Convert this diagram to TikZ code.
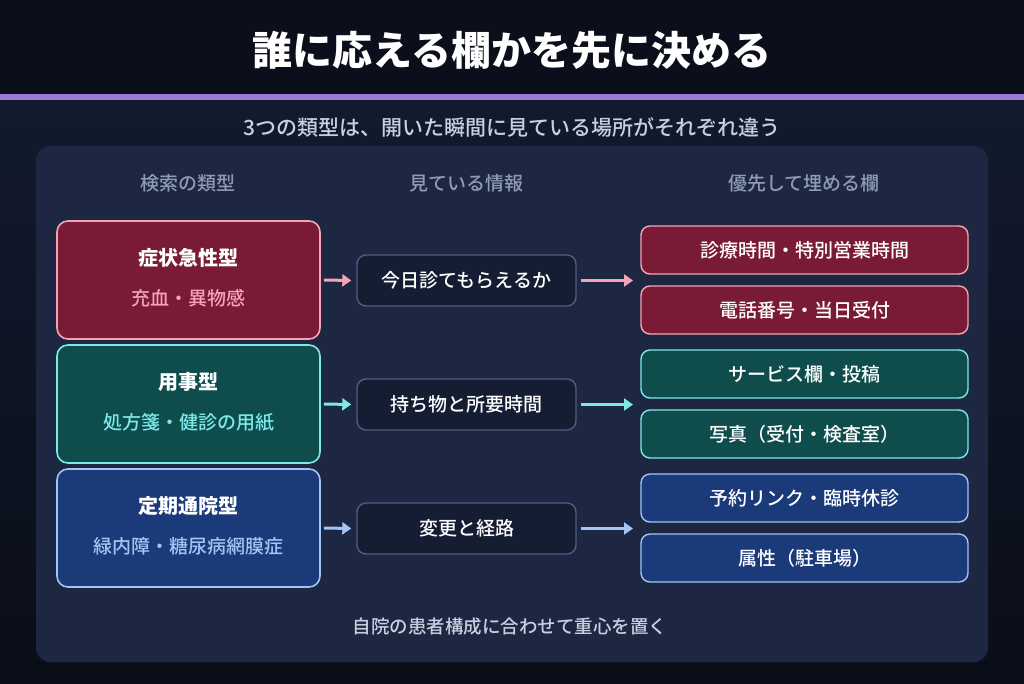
\documentclass[tikz,border=0pt]{standalone}
\usepackage{fontspec}
\setmainfont{Noto Sans CJK JP}
\newfontfamily\medfont{Noto Sans CJK JP Medium}
\usetikzlibrary{arrows.meta}
\definecolor{topbg}{HTML}{0B0F1B}
\definecolor{bodytop}{HTML}{121A2F}
\definecolor{bodybot}{HTML}{0A0E18}
\definecolor{purpleline}{HTML}{9B7BD8}
\definecolor{panel}{HTML}{1E2742}
\definecolor{headc}{HTML}{8F9BB5}
\definecolor{subc}{HTML}{C8D0E0}
\definecolor{pinkF}{HTML}{7A1B35}
\definecolor{pinkD}{HTML}{F4A3B8}
\definecolor{tealF}{HTML}{0F4D4D}
\definecolor{tealD}{HTML}{7EE8E8}
\definecolor{blueF}{HTML}{1B3A7A}
\definecolor{blueD}{HTML}{A3C4F4}
\definecolor{midF}{HTML}{151D33}
\definecolor{midD}{HTML}{4E5E82}
\tikzset{
  typebox/.style={draw=#1D, fill=#1F, line width=1.6pt, rounded corners=11pt, minimum width=263pt, minimum height=118pt, inner sep=0pt},
  infobox/.style={draw=midD, fill=midF, line width=1.4pt, rounded corners=9pt, minimum width=219pt, minimum height=51pt, inner sep=0pt, text=white, font=\medfont\fontsize{19}{22}\selectfont},
  fieldbox/.style={draw=#1D, fill=#1F, line width=1.4pt, rounded corners=9pt, minimum width=327pt, minimum height=48pt, inner sep=0pt, text=white, font=\medfont\fontsize{19}{22}\selectfont},
  ttl/.style={text=white, font=\fontsize{20}{24}\selectfont\bfseries},
  sub/.style={font=\medfont\fontsize{19}{22}\selectfont},
  colhead/.style={text=headc, font=\medfont\fontsize{19}{22}\selectfont},
  flow/.style={draw=#1, line width=3pt, -{Triangle[length=9pt,width=12pt]}, shorten >=1pt},
}
\begin{document}
\begin{tikzpicture}[x=1pt,y=-1pt]
\useasboundingbox (0,0) rectangle (1024,683);
\fill[topbg] (0,0) rectangle (1024,94);
\shade[top color=bodytop, bottom color=bodybot] (0,99) rectangle (1024,683);
\fill[purpleline] (0,94) rectangle (1024,100);
\fill[panel, rounded corners=14pt] (36,146) rectangle (988,662);

\node[text=white, font=\fontsize{40}{44}\selectfont\bfseries] (title) at (512,50) {誰に応える欄かを先に決める};
\node[text=subc, font=\medfont\fontsize{21}{24}\selectfont] (subtitle) at (512,127) {3つの類型は、開いた瞬間に見ている場所がそれぞれ違う};

\node[colhead] (h1) at (188,183) {検索の類型};
\node[colhead] (h2) at (466,183) {見ている情報};
\node[colhead] (h3) at (804,183) {優先して埋める欄};

% left type boxes
\node[typebox=pink] (t1) at (188.5,280) {};
\node[ttl] (t1a) at (188.5,258) {症状急性型};
\node[sub, text=pinkD] (t1b) at (188.5,298) {充血・異物感};

\node[typebox=teal] (t2) at (188.5,404) {};
\node[ttl] (t2a) at (188.5,382) {用事型};
\node[sub, text=tealD] (t2b) at (188.5,422) {処方箋・健診の用紙};

\node[typebox=blue] (t3) at (188.5,528) {};
\node[ttl] (t3a) at (188.5,506) {定期通院型};
\node[sub, text=blueD] (t3b) at (188.5,546) {緑内障・糖尿病網膜症};

% middle info boxes
\node[infobox] (m1) at (466.5,280.5) {今日診てもらえるか};
\node[infobox] (m2) at (466.5,404.5) {持ち物と所要時間};
\node[infobox] (m3) at (466.5,528.5) {変更と経路};

% right field boxes
\node[fieldbox=pink] (f1) at (804.5,250) {診療時間・特別営業時間};
\node[fieldbox=pink] (f2) at (804.5,310) {電話番号・当日受付};
\node[fieldbox=teal] (f3) at (804.5,374) {サービス欄・投稿};
\node[fieldbox=teal] (f4) at (804.5,434) {写真（受付・検査室）};
\node[fieldbox=blue] (f5) at (804.5,498) {予約リンク・臨時休診};
\node[fieldbox=blue] (f6) at (804.5,558) {属性（駐車場）};

% right-side join points
\coordinate (j1) at (634,280.5);
\coordinate (j2) at (634,404.5);
\coordinate (j3) at (634,528.5);

\draw[flow=pinkD] ([xshift=3pt]t1.east) -- ([xshift=-4pt]m1.west);
\draw[flow=pinkD] ([xshift=4pt]m1.east) -- (j1);
\draw[flow=tealD] ([xshift=3pt]t2.east) -- ([xshift=-4pt]m2.west);
\draw[flow=tealD] ([xshift=4pt]m2.east) -- (j2);
\draw[flow=blueD] ([xshift=3pt]t3.east) -- ([xshift=-4pt]m3.west);
\draw[flow=blueD] ([xshift=4pt]m3.east) -- (j3);

\node[text=subc, font=\medfont\fontsize{18.5}{22}\selectfont] (foot) at (510,627) {自院の患者構成に合わせて重心を置く};
\end{tikzpicture}
\end{document}
